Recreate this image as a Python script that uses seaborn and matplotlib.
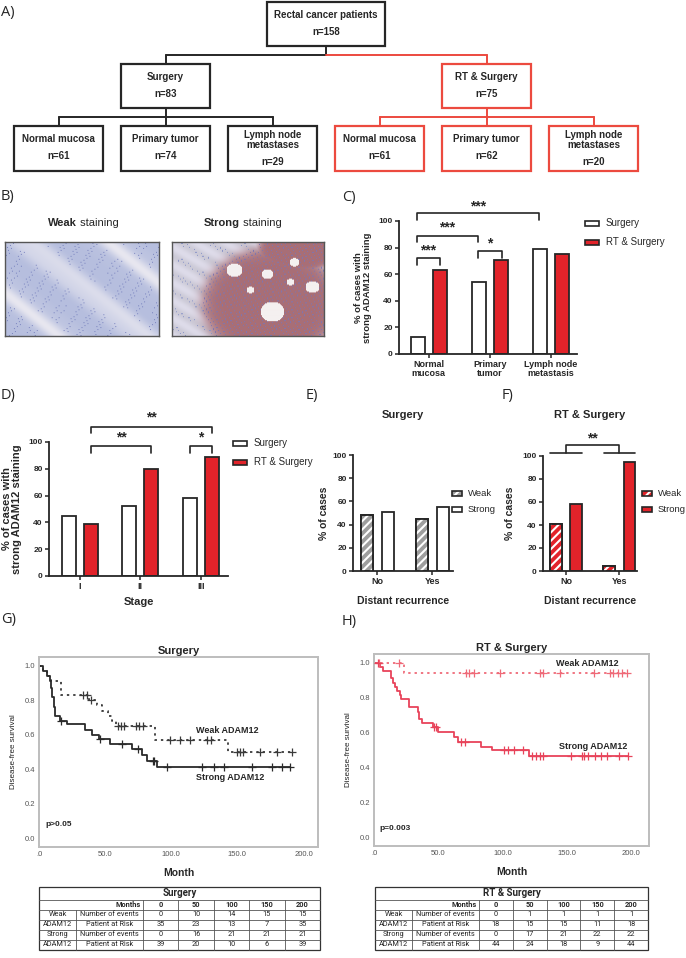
import numpy as np
import pandas as pd
import matplotlib
matplotlib.use("Agg")
import matplotlib.pyplot as plt
from matplotlib.patches import Rectangle
import seaborn as sns

sns.set_theme(style="ticks")
plt.rcParams['font.family'] = ['Liberation Sans', 'DejaVu Sans']
plt.rcParams['hatch.linewidth'] = 1.5

W, H, DPI = 686, 958, 100
RED = '#e2232a'
FLOW_RED = '#ec4a3f'
KM_RED = '#e8435a'
KM_RED2 = '#ef6a78'
EDGE = '#262626'
GRAY_HATCH = '#9e9e9e'

# ---------------- data ----------------
flow_top = ["Rectal cancer patients", "n=158"]
flow_arms = [["Surgery", "n=83"], ["RT & Surgery", "n=75"]]
flow_leaves_surg = [["Normal mucosa", "n=61"], ["Primary tumor", "n=74"], ["Lymph node\nmetastases", "n=29"]]
flow_leaves_rt = [["Normal mucosa", "n=61"], ["Primary tumor", "n=62"], ["Lymph node\nmetastases", "n=20"]]

c_categories = ["Normal\nmucosa", "Primary\ntumor", "Lymph node\nmetastasis"]
c_surgery = [13, 54, 79]
c_rt = [63.5, 70.5, 75]

d_stages = ["I", "II", "III"]
d_surgery = [45, 52, 58]
d_rt = [39, 80, 89]

ef_groups = ["No", "Yes"]
e_weak = [48.5, 44.5]
e_strong = [51, 55.5]
f_weak = [41, 4.5]
f_strong = [58, 95]

# Kaplan-Meier: step times, survival after step, censor times
g_weak_t = [0, 3, 6, 9, 17, 38, 44, 48, 52, 55, 58, 88, 143]
g_weak_s = [1.0, 0.97, 0.94, 0.91, 0.83, 0.80, 0.77, 0.74, 0.71, 0.68, 0.65, 0.57, 0.50]
g_weak_c = [33, 36, 39, 60, 62, 64, 73, 76, 79, 99, 107, 114, 127, 130, 150, 152, 154, 167, 180, 191]
g_strong_t = [0, 3, 6, 8, 9, 10, 11, 12, 16, 21, 35, 40, 45, 54, 70, 78, 82, 89]
g_strong_s = [1.0, 0.97, 0.94, 0.91, 0.87, 0.82, 0.76, 0.71, 0.68, 0.66, 0.63, 0.60, 0.575, 0.545, 0.515, 0.485, 0.45, 0.415]
g_strong_c = [17, 46, 63, 75, 86, 87, 97, 123, 132, 140, 161, 176, 184, 190]

h_weak_t = [0, 23]
h_weak_s = [1.0, 0.94]
h_weak_c = [4, 19.5, 71.6, 74.2, 77.6, 97.7, 128.9, 131.5, 145, 171.4, 183.6, 186.2, 189.6, 192.7, 196.6]
h_strong_t = [0, 5, 7, 13, 15, 16.5, 18, 20, 21, 27, 34, 35, 37, 46, 50, 62, 65, 83, 92, 121]
h_strong_s = [1.0, 0.975, 0.95, 0.913, 0.884, 0.861, 0.836, 0.817, 0.79, 0.745, 0.72, 0.676, 0.652,
              0.633, 0.604, 0.575, 0.546, 0.52, 0.498, 0.463]
h_strong_c = [3.4, 47, 48.5, 67.7, 70.8, 100.8, 104, 109, 116, 123, 125.8, 129, 131.5, 153.6, 161.5,
              163.5, 166.7, 171.9, 176.3, 181, 190.6, 198]

km_xticks = [0, 50, 100, 150, 200]
km_xticklabels = [".0", "50.0", "100.0", "150.0", "200.0"]
km_yticks = [0.0, 0.2, 0.4, 0.6, 0.8, 1.0]

tab_months = [0, 50, 100, 150, 200]
surg_weak_events = [0, 10, 14, 15, 15]
surg_weak_risk = [35, 23, 13, 7, 35]
surg_strong_events = [0, 16, 21, 21, 21]
surg_strong_risk = [39, 20, 10, 6, 39]
rt_weak_events = [0, 1, 1, 1, 1]
rt_weak_risk = [18, 15, 15, 11, 18]
rt_strong_events = [0, 17, 21, 22, 22]
rt_strong_risk = [44, 24, 18, 9, 44]

# ---------------- figure ----------------
fig = plt.figure(figsize=(W / DPI, H / DPI), dpi=DPI)
fig.patch.set_facecolor('white')


def add_ax(x0, y0, x1, y1):
    ax = fig.add_axes([x0 / W, 1 - y1 / H, (x1 - x0) / W, (y1 - y0) / H])
    ax.patch.set_alpha(0)
    return ax


ov = add_ax(0, 0, W, H)
ov.set_xlim(0, W)
ov.set_ylim(H, 0)
ov.axis('off')

# panel letters
for lab, x, y in [("A)", 1, 12), ("B)", 1, 196), ("C)", 342, 197), ("D)", 1, 396),
                  ("E)", 306, 396), ("F)", 502, 396), ("G)", 1, 619), ("H)", 342, 622)]:
    ov.text(x, y, lab, fontsize=10.5, va='center', ha='left', family='Open Sans')

# ---------------- A: flowchart ----------------
def fbox(x0, y0, x1, y1, color, name, n, yname, yn):
    ov.add_patch(Rectangle((x0, y0), x1 - x0, y1 - y0, fill=False, ec=color, lw=1.6))
    ov.text((x0 + x1) / 2, yname, name, ha='center', va='center', fontsize=7,
            fontweight='bold', linespacing=1.05)
    ov.text((x0 + x1) / 2, yn, n, ha='center', va='center', fontsize=7, fontweight='bold')


fbox(267, 2, 385, 46, EDGE, flow_top[0], flow_top[1], 15, 32)
fbox(121, 64, 210, 108, EDGE, flow_arms[0][0], flow_arms[0][1], 77, 94)
fbox(442, 64, 531, 108, FLOW_RED, flow_arms[1][0], flow_arms[1][1], 77, 94)
leaf_x = [(14, 103), (121, 210), (228, 317)]
for (x0, x1), (nm, n) in zip(leaf_x, flow_leaves_surg):
    two = "\n" in nm
    fbox(x0, 126, x1, 171, EDGE, nm, n, 140 if two else 139, 162 if two else 156)
for (x0, x1), (nm, n) in zip([(335, 424), (442, 531), (549, 638)], flow_leaves_rt):
    two = "\n" in nm
    fbox(x0, 126, x1, 171, FLOW_RED, nm, n, 140 if two else 139, 162 if two else 156)

lk = dict(color=EDGE, lw=1.4)
lr = dict(color=FLOW_RED, lw=1.4)
ov.plot([326, 326], [46, 55], **lk)
ov.plot([165.5, 326], [55, 55], **lk)
ov.plot([165.5, 165.5], [55, 64], **lk)
ov.plot([326, 486.5], [55, 55], **lr)
ov.plot([486.5, 486.5], [55, 64], **lr)
ov.plot([165.5, 165.5], [108, 117], **lk)
ov.plot([58.5, 272.5], [117, 117], **lk)
for x in [58.5, 165.5, 272.5]:
    ov.plot([x, x], [117, 126], **lk)
ov.plot([486.5, 486.5], [108, 117], **lr)
ov.plot([379.5, 593.5], [117, 117], **lr)
for x in [379.5, 486.5, 593.5]:
    ov.plot([x, x], [117, 126], **lr)

# ---------------- B: staining images (illustrative textures) ----------------
def weak_img():
    h, w = 95, 155
    yy, xx = np.mgrid[0:h, 0:w].astype(float)
    band = 0.5 + 0.5 * np.sin((xx - 1.25 * yy) * 0.075)
    band2 = 0.5 + 0.5 * np.sin((xx * 0.9 - yy * 1.1) * 0.21 + 1.0)
    t = np.clip(0.6 * band ** 3 + 0.3 * band2 * band, 0, 1)
    base = np.array([182, 190, 222]) / 255
    light = np.array([238, 236, 242]) / 255
    img = base * (1 - t[..., None]) + light * t[..., None]
    nuc = (np.sin(xx * 1.3 + yy * 0.5) * np.sin(yy * 1.1 - xx * 0.35) > 0.9) & (t < 0.45)
    img[nuc] = np.array([120, 130, 190]) / 255
    return img


def strong_img():
    h, w = 95, 153
    yy, xx = np.mgrid[0:h, 0:w].astype(float)
    f = ((xx - 98) / 68) ** 2 + ((yy - 62) / 56) ** 2
    f = np.minimum(f, ((xx - 125) / 40) ** 2 + ((yy - 8) / 22) ** 2)
    tumor = 1 / (1 + np.exp(-(1 - f) * 9))
    streak = 0.5 + 0.5 * np.sin((xx * 0.6 - yy * 1.0) * 0.35)
    base_s = np.array([222, 220, 234]) / 255 * (1 - 0.08 * streak[..., None])
    base_t = np.array([168, 110, 118]) / 255
    img = base_s * (1 - tumor[..., None]) + base_t * tumor[..., None]
    nuc = (np.sin(xx * 1.1 + yy * 0.4) * np.sin(yy * 1.2 - xx * 0.3) > 0.74)
    img[nuc & (tumor > 0.5)] = np.array([126, 118, 178]) / 255
    img[nuc & (tumor <= 0.5) & (streak > 0.8)] = np.array([140, 150, 200]) / 255
    for cx, cy, r in [(62, 28, 8), (95, 32, 6), (100, 70, 12), (140, 45, 7), (78, 48, 4),
                      (122, 20, 5), (118, 40, 4)]:
        m = (xx - cx) ** 2 + ((yy - cy) * 1.2) ** 2 < r ** 2
        img[m] = np.array([244, 240, 240]) / 255
    return img


for (x0, x1), maker, bold_word, split in [((5, 159), weak_img, "Weak", 77), ((172, 324), strong_img, "Strong", 240)]:
    axi = add_ax(x0, 242, x1, 336)
    axi.imshow(maker(), aspect='auto', interpolation='bilinear')
    axi.set_xticks([]); axi.set_yticks([])
    for s in axi.spines.values():
        s.set_color('#555'); s.set_linewidth(1.0)
    ov.add_patch(Rectangle((x0 + 2, 330), 45, 3.5, color='#3a3a3a', lw=0))
    ov.text(x0 + 2, 324, "100µm", fontsize=7, fontweight='bold', va='center', ha='left')
    ov.text(split, 223, bold_word, fontsize=8, fontweight='bold', ha='right', va='center')
    ov.text(split, 223, " staining", fontsize=8, ha='left', va='center')

# ---------------- helpers for bar panels ----------------
def style_bar(ax, xlabels, fs=6.5):
    sns.despine(ax=ax)
    for sp in ['left', 'bottom']:
        ax.spines[sp].set_color(EDGE)
        ax.spines[sp].set_linewidth(1.3)
    ax.set_ylim(0, 100)
    ax.set_yticks([0, 20, 40, 60, 80, 100])
    ax.tick_params(length=3, width=1.1, color=EDGE, labelsize=6, pad=1.5)
    for t in ax.get_yticklabels():
        t.set_fontweight('bold')
    ax.set_xticks(range(len(xlabels)))
    ax.set_xticklabels(xlabels, fontsize=fs, fontweight='bold', linespacing=1.0)
    ax.set_xlabel('')


def bracket(ax, x1, x2, y, drop, label, ty, fs=10):
    ax.plot([x1, x1, x2, x2], [y - drop, y, y, y - drop], color=EDGE, lw=1.2, clip_on=False)
    ax.text((x1 + x2) / 2, ty, label, ha='center', va='center', fontsize=fs,
            fontweight='bold', clip_on=False)


def legend_box(x, y, face, label, hatch=False, bw=14, gap=21, fs=7):
    if hatch:
        ov.add_patch(Rectangle((x, y - 2.5), bw, 5, facecolor=face, lw=0))
        ov.add_patch(Rectangle((x, y - 2.5), bw, 5, fill=False, hatch='////', ec='white', lw=0))
        ov.add_patch(Rectangle((x, y - 2.5), bw, 5, fill=False, ec=EDGE, lw=1.2))
    else:
        ov.add_patch(Rectangle((x, y - 2.5), bw, 5, facecolor=face, ec=EDGE, lw=1.2))
    ov.text(x + gap, y, label, fontsize=fs, va='center', ha='left')


def hatch_weak(ax):
    for bar in ax.containers[0]:
        x, y = bar.get_x(), bar.get_y()
        w, h = bar.get_width(), bar.get_height()
        ax.add_patch(Rectangle((x, y), w, h, fill=False, hatch='////', ec='white', lw=0, zorder=3))
        ax.add_patch(Rectangle((x, y), w, h, fill=False, ec=EDGE, lw=1.3, zorder=4))


# ---------------- C ----------------
axC = add_ax(399, 221, 577, 354)
c_df = pd.DataFrame({'Category': c_categories * 2,
                     'Group': ['Surgery'] * 3 + ['RT & Surgery'] * 3,
                     'Value': c_surgery + c_rt})
sns.barplot(data=c_df, x='Category', y='Value', hue='Group', hue_order=['Surgery', 'RT & Surgery'],
            palette={'Surgery': 'white', 'RT & Surgery': RED}, saturation=1, width=0.72, gap=0.36,
            edgecolor=EDGE, linewidth=1.3, errorbar=None, legend=False, ax=axC)
style_bar(axC, c_categories)
axC.set_xlim(-0.49, 2.43)
axC.set_ylabel("% of cases with\nstrong ADAM12 staining", fontsize=6.8, fontweight='bold', linespacing=1.0)
axC.yaxis.set_label_coords(-0.15, 0.5)
bracket(axC, -0.2, 1.8, 106, 5, "***", 111)
bracket(axC, -0.2, 0.8, 88.7, 4.7, "***", 95)
bracket(axC, -0.2, 0.18, 72, 5, "***", 78)
bracket(axC, 0.8, 1.2, 77.4, 5.4, "*", 83)
legend_box(585, 223, 'white', 'Surgery')
legend_box(585, 242, RED, 'RT & Surgery')

# ---------------- D ----------------
axD = add_ax(49, 442, 228, 576)
d_df = pd.DataFrame({'Stage': d_stages * 2,
                     'Group': ['Surgery'] * 3 + ['RT & Surgery'] * 3,
                     'Value': d_surgery + d_rt})
sns.barplot(data=d_df, x='Stage', y='Value', hue='Group', hue_order=['Surgery', 'RT & Surgery'],
            palette={'Surgery': 'white', 'RT & Surgery': RED}, saturation=1, width=0.72, gap=0.36,
            edgecolor=EDGE, linewidth=1.3, errorbar=None, legend=False, ax=axD)
style_bar(axD, d_stages)
axD.set_xlim(-0.51, 2.45)
axD.set_xlabel("Stage", fontsize=8, fontweight='bold', labelpad=4)
axD.set_ylabel("% of cases with\nstrong ADAM12 staining", fontsize=8, fontweight='bold', linespacing=1.0)
axD.yaxis.set_label_coords(-0.15, 0.5)
bracket(axD, 0.18, 2.18, 111, 4.5, "**", 118)
bracket(axD, 0.18, 1.18, 97, 5, "**", 103.5)
bracket(axD, 1.82, 2.18, 97, 5, "*", 103.5)
legend_box(233, 443, 'white', 'Surgery')
legend_box(233, 462, RED, 'RT & Surgery')

# ---------------- E ----------------
axE = add_ax(353, 455, 453, 571)
e_df = pd.DataFrame({'Recurrence': ef_groups * 2, 'ADAM12': ['Weak'] * 2 + ['Strong'] * 2,
                     'Value': e_weak + e_strong})
sns.barplot(data=e_df, x='Recurrence', y='Value', hue='ADAM12', hue_order=['Weak', 'Strong'],
            palette={'Weak': GRAY_HATCH, 'Strong': 'white'}, saturation=1, width=0.76, gap=0.42,
            edgecolor=EDGE, linewidth=1.3, errorbar=None, legend=False, ax=axE)
style_bar(axE, ef_groups)
hatch_weak(axE)
axE.set_xlim(-0.44, 1.38)
axE.set_xlabel("Distant recurrence", fontsize=7.5, fontweight='bold', labelpad=7)
axE.set_ylabel("% of cases", fontsize=7.5, fontweight='bold')
axE.yaxis.set_label_coords(-0.24, 0.5)
axE.set_title("Surgery", fontsize=8, fontweight='bold', y=1.0, pad=27)
legend_box(452, 493, GRAY_HATCH, 'Weak', hatch=True, bw=10, gap=16, fs=6.8)
legend_box(452, 509, 'white', 'Strong', bw=10, gap=16, fs=6.8)

# ---------------- F ----------------
axF = add_ax(543, 456, 637, 571)
f_df = pd.DataFrame({'Recurrence': ef_groups * 2, 'ADAM12': ['Weak'] * 2 + ['Strong'] * 2,
                     'Value': f_weak + f_strong})
sns.barplot(data=f_df, x='Recurrence', y='Value', hue='ADAM12', hue_order=['Weak', 'Strong'],
            palette={'Weak': RED, 'Strong': RED}, saturation=1, width=0.76, gap=0.42,
            edgecolor=EDGE, linewidth=1.3, errorbar=None, legend=False, ax=axF)
style_bar(axF, ef_groups)
hatch_weak(axF)
axF.set_xlim(-0.43, 1.33)
axF.set_xlabel("Distant recurrence", fontsize=7.5, fontweight='bold', labelpad=7)
axF.set_ylabel("% of cases", fontsize=7.5, fontweight='bold')
axF.yaxis.set_label_coords(-0.30, 0.5)
axF.set_title("RT & Surgery", fontsize=8, fontweight='bold', y=1.0, pad=27)
axF.plot([-0.3, 0.3], [102.6, 102.6], color=EDGE, lw=1.2, clip_on=False)
axF.plot([0.72, 1.3], [102.6, 102.6], color=EDGE, lw=1.2, clip_on=False)
axF.plot([0.0, 0.0, 1.0, 1.0], [102.6, 109.6, 109.6, 102.6], color=EDGE, lw=1.2, clip_on=False)
axF.text(0.5, 115.5, "**", ha='center', va='center', fontsize=10, fontweight='bold', clip_on=False)
legend_box(642, 493, RED, 'Weak', hatch=True, bw=10, gap=16, fs=6.8)
legend_box(642, 509, RED, 'Strong', bw=10, gap=16, fs=6.8)

# ---------------- G / H: Kaplan-Meier ----------------
def km_frames(t, s, c):
    line = pd.DataFrame({'Month': list(t) + [max(c)], 'Survival': list(s) + [s[-1]]})
    idx = np.searchsorted(np.asarray(t), np.asarray(c), side='right') - 1
    cens = pd.DataFrame({'Month': c, 'Survival': np.asarray(s)[idx]})
    return line, cens


def draw_km(ax, t, s, c, color, ls):
    line, cens = km_frames(t, s, c)
    sns.lineplot(data=line, x='Month', y='Survival', ax=ax, color=color, lw=1.3, linestyle=ls,
                 drawstyle='steps-post', estimator=None, sort=False)
    sns.scatterplot(data=cens, x='Month', y='Survival', ax=ax, marker='+', s=30, color=color,
                    linewidth=0.9, zorder=3)


def style_km(ax, title, xmax):
    ax.set_xlim(0, xmax)
    ax.set_ylim(-0.05, 1.05)
    for sp in ax.spines.values():
        sp.set_visible(True)
        sp.set_color('#bdbdbd')
        sp.set_linewidth(1.4)
    ax.set_xticks(km_xticks)
    ax.set_xticklabels(km_xticklabels, fontsize=5.5, color='#555')
    ax.set_yticks(km_yticks)
    ax.set_yticklabels([f"{v:.1f}" for v in km_yticks], fontsize=5.5, color='#555')
    ax.tick_params(length=0, pad=3)
    ax.set_title(title, fontsize=8, fontweight='bold', pad=2)
    ax.set_xlabel("Month", fontsize=7.5, fontweight='bold', labelpad=7)
    ax.set_ylabel("Disease-free survival", fontsize=5.8, labelpad=5, color='#222')


axG = add_ax(39, 657, 318, 847)
draw_km(axG, g_weak_t, g_weak_s, g_weak_c, '#3a3a3a', (0, (1.3, 2.2)))
draw_km(axG, g_strong_t, g_strong_s, g_strong_c, '#2a2a2a', '-')
style_km(axG, "Surgery", 211)
axG.text(119, 0.625, "Weak ADAM12", fontsize=6.5, fontweight='bold', ha='left', va='center')
axG.text(119, 0.355, "Strong ADAM12", fontsize=6.5, fontweight='bold', ha='left', va='center')
axG.text(5, 0.08, "p>0.05", fontsize=6, fontweight='bold', ha='left', va='center')

axH = add_ax(374, 654, 649, 846)
draw_km(axH, h_weak_t, h_weak_s, h_weak_c, KM_RED2, (0, (1.3, 2.2)))
draw_km(axH, h_strong_t, h_strong_s, h_strong_c, KM_RED, '-')
style_km(axH, "RT & Surgery", 214)
axH.text(142, 0.995, "Weak ADAM12", fontsize=6.5, fontweight='bold', ha='left', va='center')
axH.text(144, 0.52, "Strong ADAM12", fontsize=6.5, fontweight='bold', ha='left', va='center')
axH.text(4, 0.05, "p=0.003", fontsize=6, fontweight='bold', ha='left', va='center')

# ---------------- tables ----------------
def draw_table(x0, x1, y0, title, ev_w, rk_w, ev_s, rk_s):
    xs = [x0, x0 + 37, x0 + 104]
    rest = (x1 - xs[2]) / 5
    xs += [xs[2] + rest * (i + 1) for i in range(5)]
    ys = [y0, y0 + 13] + [y0 + 13 + 10 * (i + 1) for i in range(5)]
    lc = dict(color='#555', lw=0.6)
    ov.add_patch(Rectangle((x0, y0), x1 - x0, ys[-1] - y0, fill=False, ec='#333', lw=0.9))
    for y in ys[1:-1]:
        ov.plot([x0, x1], [y, y], **lc)
    ov.plot([xs[1], xs[1]], [ys[2], ys[-1]], **lc)
    for x in xs[2:-1]:
        ov.plot([x, x], [ys[1], ys[-1]], **lc)
    tf = dict(family=['Roboto', 'DejaVu Sans'], va='center')
    ov.text((x0 + x1) / 2, (ys[0] + ys[1]) / 2, title, fontsize=7, fontweight='bold', ha='center', **tf)
    ov.text(xs[2] - 2, (ys[1] + ys[2]) / 2, "Months", fontsize=5.3, fontweight='bold', ha='right', **tf)
    for j, m in enumerate(tab_months):
        ov.text((xs[2 + j] + xs[3 + j]) / 2, (ys[1] + ys[2]) / 2, str(m), fontsize=5.3,
                fontweight='bold', ha='center', **tf)
    rows = [("Weak", "Number of events", ev_w), ("ADAM12", "Patient at Risk", rk_w),
            ("Strong", "Number of events", ev_s), ("ADAM12", "Patient at Risk", rk_s)]
    for i, (g, lab, vals) in enumerate(rows):
        yc = (ys[2 + i] + ys[3 + i]) / 2
        ov.text((xs[0] + xs[1]) / 2, yc, g, fontsize=5.3, ha='center', **tf)
        ov.text((xs[1] + xs[2]) / 2, yc, lab, fontsize=5.3, ha='center', **tf)
        for j, v in enumerate(vals):
            ov.text((xs[2 + j] + xs[3 + j]) / 2, yc, str(v), fontsize=5.3, ha='center', **tf)


draw_table(39, 320, 887, "Surgery", surg_weak_events, surg_weak_risk, surg_strong_events, surg_strong_risk)
draw_table(375, 648, 887, "RT & Surgery", rt_weak_events, rt_weak_risk, rt_strong_events, rt_strong_risk)

fig.savefig("out.png", dpi=DPI)
